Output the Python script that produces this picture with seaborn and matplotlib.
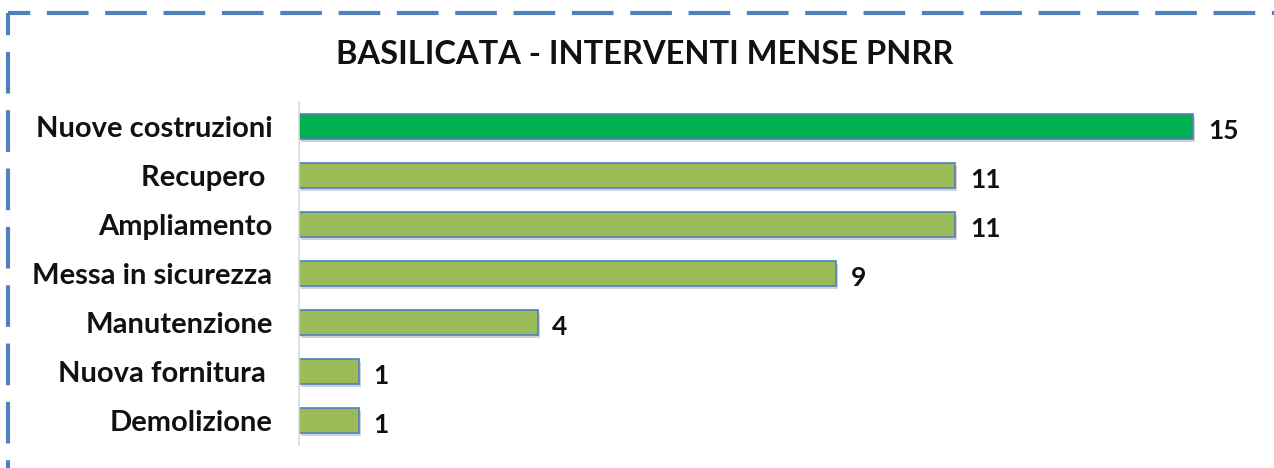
import matplotlib
matplotlib.use("Agg")
import matplotlib.pyplot as plt
import matplotlib.patheffects as pe
from matplotlib.lines import Line2D
import seaborn as sns
import pandas as pd

# dati
categorie = ['Nuove costruzioni', 'Recupero ', 'Ampliamento', 'Messa in sicurezza',
             'Manutenzione', 'Nuova fornitura ', 'Demolizione']
interventi = [15, 11, 11, 9, 4, 1, 1]
colori = ['#00B050'] + ['#9BBB59'] * 6
titolo = 'BASILICATA - INTERVENTI MENSE PNRR'

df = pd.DataFrame({'categoria': categorie, 'n': interventi})

sns.set_style('white')
plt.rcParams['font.family'] = ['Lato', 'DejaVu Sans']
plt.rcParams['font.weight'] = 'bold'
plt.rcParams['lines.scale_dashes'] = False

W, H = 1274, 468
fig = plt.figure(figsize=(W / 100, H / 100), dpi=100)
ax = fig.add_axes([299 / W, 23 / H, 954 / W, 343 / H])

sns.barplot(data=df, y='categoria', x='n', hue='categoria', palette=colori,
            saturation=1, legend=False, orient='h', width=0.5,
            edgecolor='#4F81BD', linewidth=1.2, ax=ax)

for p in ax.patches:
    p.set_path_effects([pe.SimplePatchShadow(offset=(1.5, -2), shadow_rgbFace='#808080', alpha=0.35),
                        pe.Normal()])

for i, v in enumerate(interventi):
    ax.text(v + 0.25, i + 0.1, str(v), va='center', ha='left',
            fontsize=19, fontweight='bold', color='#111111')

ax.set_xlim(0, 16)
ax.set_ylim(6.5, -0.5)
ax.set_xlabel('')
ax.set_ylabel('')
ax.set_xticks([])
ax.tick_params(axis='y', length=0, pad=19, labelsize=21, labelcolor='#111111')
for lab in ax.get_yticklabels():
    lab.set_fontweight('bold')
for s in ['top', 'right', 'bottom']:
    ax.spines[s].set_visible(False)
ax.spines['left'].set_color('#D9D9D9')
ax.spines['left'].set_linewidth(1.2)

fig.text(645 / W, 1 - 55 / H, titolo, ha='center', va='center',
         fontsize=23.5, fontweight='bold', color='#111111')

# bordo tratteggiato
blu = '#4F81BD'
stile = (14, (30, 12))
fig.add_artist(Line2D([8 / W, 1.0], [1 - 13 / H, 1 - 13 / H], transform=fig.transFigure,
                      color=blu, lw=3, linestyle=stile, solid_capstyle='butt'))
fig.add_artist(Line2D([8 / W, 8 / W], [1 - 13 / H, 0.0], transform=fig.transFigure,
                      color=blu, lw=3, linestyle=stile))

fig.savefig('out.png', dpi=100)
